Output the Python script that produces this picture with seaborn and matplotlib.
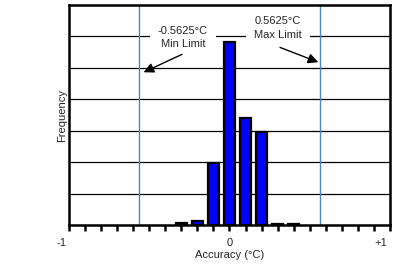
import matplotlib
matplotlib.use("Agg")
import matplotlib.pyplot as plt
import matplotlib.transforms as mtransforms
import seaborn as sns
import pandas as pd
import numpy as np

centers = [-0.3, -0.2, -0.1, 0.0, 0.1, 0.2, 0.3, 0.4]
freq = [0.05, 0.13, 1.98, 5.81, 3.39, 2.97, 0.04, 0.04]
xtick_labels = ["-1", "0", "+1"]
limits = [-0.5625, 0.5625]

sns.set_style("white")
plt.rcParams['font.family'] = ['Liberation Sans', 'DejaVu Sans']

fig = plt.figure(figsize=(4.06, 2.67), dpi=100)
ax = fig.add_axes([69/406, 1-225/267, (390-69)/406, (225-5)/267])

df = pd.DataFrame({"x": centers, "y": freq})
sns.barplot(data=df, x="x", y="y", native_scale=True, width=0.7,
            color="#0000ff", saturation=1, edgecolor="black", linewidth=1.6, ax=ax, zorder=3)

ax.set_xlim(-1, 1)
ax.set_ylim(0, 7)
ax.set_yticks(range(1, 7))
ax.yaxis.grid(True, color="black", linewidth=0.9)
ax.set_axisbelow(True)
ax.tick_params(axis="y", left=False, labelleft=False)
ax.set_xticks(np.round(np.arange(-1, 1.01, 0.1), 2), minor=True)
ax.set_xticks([-1, 0, 1])
ax.set_xticklabels(xtick_labels, fontsize=8)
ax.tick_params(axis="x", which="both", bottom=True, direction="out", length=4, width=1.8,
               color="black", pad=5)
shifts = [-7, 0, -9]
for lab, dx in zip(ax.get_xticklabels(), shifts):
    lab.set_transform(lab.get_transform() + mtransforms.ScaledTranslation(dx/100, 0, fig.dpi_scale_trans))
for s in ax.spines.values():
    s.set_color("black")
    s.set_linewidth(1.8)

for lim in limits:
    ax.axvline(lim, color="#4a86c8", linewidth=1.0, zorder=2)

ax.set_xlabel("Accuracy (°C)", fontsize=8, labelpad=2)
ax.set_ylabel("Frequency", fontsize=8, labelpad=1)

bbox = dict(boxstyle="square,pad=0.7", facecolor="white", edgecolor="none")
arrow = dict(arrowstyle="-|>,head_length=0.6,head_width=0.3", color="black",
             lw=1, shrinkA=0, shrinkB=0)
ax.text(-0.29, 5.97, "-0.5625°C\nMin Limit", ha="center", va="center", fontsize=8,
        bbox=bbox, linespacing=1.45, zorder=4)
ax.text(0.302, 6.27, "0.5625°C\nMax Limit", ha="center", va="center", fontsize=8,
        bbox=bbox, linespacing=1.45, zorder=4)
ax.annotate("", xy=(-0.535, 4.86), xytext=(-0.296, 5.43), arrowprops=arrow, zorder=5)
ax.annotate("", xy=(0.553, 5.18), xytext=(0.315, 5.65), arrowprops=arrow, zorder=5)

fig.savefig("out.png", dpi=100)
